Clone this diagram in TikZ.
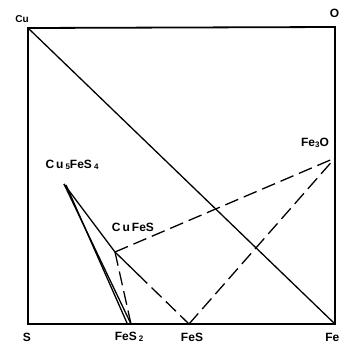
\documentclass[tikz,border=0pt]{standalone}
\usepackage{fontspec}
\usetikzlibrary{calc}
\setmainfont{Liberation Sans}
\begin{document}
\begin{tikzpicture}[x=1pt,y=-1pt,
  frame/.style={line width=1.8pt},
  solidline/.style={line width=1.3pt},
  dashline/.style={line width=1.3pt, dash pattern=on 14pt off 6pt},
  lbl/.style={font=\bfseries\fontsize{12}{12}\selectfont, inner sep=0pt},
  small/.style={font=\bfseries\fontsize{10}{10}\selectfont, inner sep=0pt}]
\useasboundingbox (0,0) rectangle (340,346);
% corner and phase points
\coordinate (Cu) at (28,28);
\coordinate (O) at (335,27);
\coordinate (S) at (28,324);
\coordinate (Fe) at (335,324);
\coordinate (FeO) at (335,158);
\coordinate (Bn) at (64,184);
\coordinate (Bn2) at (66,185);
\coordinate (Cp) at (115,252);
\coordinate (Py) at (131,324);
\coordinate (Py2) at (127,323);
\coordinate (Po) at (189,324);
\coordinate (Sx) at ($(Cp)!0.3!(Po)$);
% frame
\draw[frame] (Cu) -- (O) -- (Fe) -- (S) -- cycle;
% solid lines
\draw[solidline] (Cu) -- (Fe);
\draw[solidline] (Bn) -- (Py);
\draw[solidline] (Bn2) -- (Py2);
\draw[solidline] (Bn) -- (Cp) -- (Sx);
% dashed lines
\draw[dashline] (Sx) -- (Po);
\draw[dashline] (Cp) -- (Py);
\draw[dashline] (Cp) -- (FeO);
\draw[dashline] (Po) -- (FeO);
% labels
\node[small] (lCu) at (22,19) {Cu};
\node[lbl, anchor=east] (lO) at (339.5,13) {O};
\node[lbl] (lS) at (27,337) {S};
\node[lbl] (lPy) at (129,337) {FeS\,\raisebox{-1pt}{\fontsize{8}{8}\selectfont 2}};
\node[lbl] (lPo) at (192,337) {FeS};
\node[lbl, anchor=east] (lFe) at (339.5,337) {Fe};
\node[lbl] (lFeO) at (315,143) {Fe\raisebox{-1pt}{\fontsize{8}{8}\selectfont 3}O};
\node[lbl] (lBn) at (72,165) {C\,u\,\raisebox{-1pt}{\fontsize{8}{8}\selectfont 5}FeS\,\raisebox{-1pt}{\fontsize{8}{8}\selectfont 4}};
\node[lbl] (lCp) at (133,227) {C\,u\,FeS};
\end{tikzpicture}
\end{document}
